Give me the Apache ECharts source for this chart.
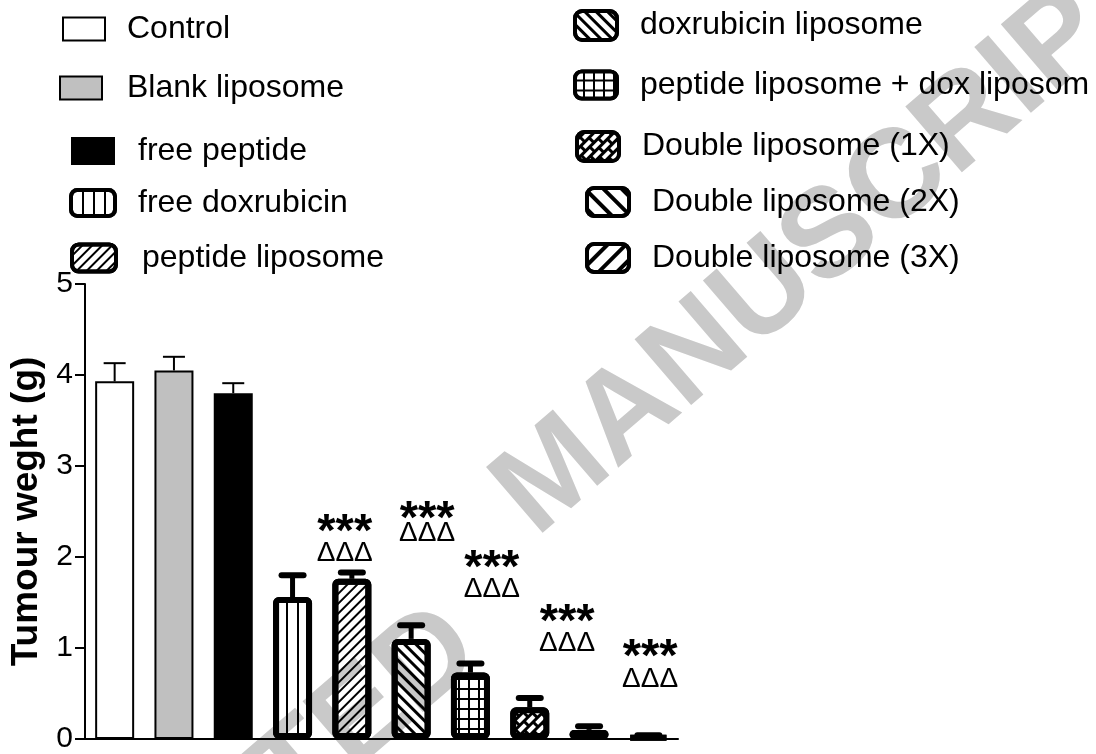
<!DOCTYPE html>
<html><head><meta charset="utf-8">
<script src="https://cdn.jsdelivr.net/npm/echarts@6/dist/echarts.min.js"></script>
<style>html,body{margin:0;padding:0;background:#fff}#c{width:1096px;height:754px}</style>
</head><body><div id="c"></div>
<script>
// ---------------- data ----------------
const categories = ['Control','Blank liposome','free peptide','free doxrubicin','peptide liposome','doxrubicin liposome','peptide liposome + dox liposom','Double liposome (1X)','Double liposome (2X)','Double liposome (3X)'];
const meanWeight = [3.93, 4.05, 3.80, 1.56, 1.76, 1.10, 0.73, 0.35, 0.10, 0.03];
const semWeight  = [0.20, 0.15, 0.11, 0.24, 0.07, 0.15, 0.10, 0.10, 0.04, 0.01];
const yTicks = [0, 1, 2, 3, 4, 5];
const sigX   = [3.88, 5.27, 6.36, 7.63, 9.03];
const starY  = [2.39, 2.54, 2.00, 1.41, 1.02];
const deltaY = [2.07, 2.29, 1.68, 1.08, 0.69];
const starText = '***';
const deltaText = 'ΔΔΔ';
const yName = 'Tumour weght (g)';
const watermarkWords = ['ACCEPTED', 'MANUSCRIPT'];

// ---------------- styles / layout ----------------
function hasFont(name){
  const c = document.createElement('canvas').getContext('2d');
  const t = 'abcdefghijklmnopqrstuvwxyz ABCDEFG';
  c.font = '40px monospace'; const w1 = c.measureText(t).width;
  c.font = "40px '" + name + "', monospace"; const w2 = c.measureText(t).width;
  return Math.abs(w1 - w2) > 0.5;
}
const narrow = hasFont('Liberation Sans Narrow');
const legendFont = narrow ? "'Liberation Sans Narrow'" : "'Liberation Sans', Arial";
const legendSize = narrow ? 37 : 32;

const blk = '#000';
const clear = 'rgba(255,255,255,0)';
const styles = [
  {color:clear, bw:2, icon:'rect'},
  {color:'#c0c0c0', bw:2, icon:'rect'},
  {color:'#000', bw:2, icon:'rect'},
  {color:clear, bw:6, icon:'roundRect', decal:{symbol:'rect', color:blk, dashArrayX:[2,9], dashArrayY:[1,0]}},
  {color:clear, bw:6, icon:'roundRect', decal:{symbol:'rect', color:blk, dashArrayX:[1,0], dashArrayY:[2,5], rotation:-Math.PI/4}},
  {color:clear, bw:6, icon:'roundRect', decal:{symbol:'rect', color:blk, dashArrayX:[1,0], dashArrayY:[3,5], rotation:Math.PI/4}},
  {color:'#000', bw:6, icon:'roundRect', decal:{symbol:'rect', color:'#fff', backgroundColor:blk, dashArrayX:[8,2], dashArrayY:[8,2]}},
  {color:'#000', bw:6, icon:'roundRect', decal:{symbol:'rect', color:'#fff', backgroundColor:blk, dashArrayX:[[9,3],[3,3,6,0]], dashArrayY:[4,3], rotation:-Math.PI/4}},
  {color:clear, bw:6, icon:'roundRect', decal:{symbol:'rect', color:blk, dashArrayX:[1,0], dashArrayY:[4,9], rotation:Math.PI/4}},
  {color:clear, bw:6, icon:'roundRect', decal:{symbol:'rect', color:blk, dashArrayX:[1,0], dashArrayY:[4,9], rotation:-Math.PI/4}}
];
// [iconLeft, iconTop, iconW, iconH, textLeft, iconBorder]
const legendBoxes = [
  [62, 13, 44, 25, 127, 2],
  [59, 72, 44, 25, 127, 2],
  [71, 135, 44, 28, 138, 0],
  [69, 187, 48, 30, 138, 4],
  [70, 242, 48, 31, 142, 4],
  [573, 9, 46, 33, 640, 4],
  [573, 69, 46, 31, 640, 4],
  [575, 130, 46, 33, 642, 4],
  [585, 186, 46, 32, 652, 4],
  [585, 242, 46, 32, 652, 4]
];
// watermark word centres (px) and angle
const watermarkPos = [[200, 858], [832, 238]];
const watermarkAngle = 40.7;

const chart = echarts.init(document.getElementById('c'), null, {renderer:'canvas'});

const barSeries = categories.map((name, i) => ({
  name: name,
  type: 'bar',
  xAxisIndex: 0, yAxisIndex: 0,
  barWidth: 39,
  barGap: '-100%',
  z: 2,
  silent: true,
  data: categories.map((c, j) => j === i ? meanWeight[i] : '-'),
  itemStyle: Object.assign({
    color: styles[i].color,
    borderColor: '#000',
    borderWidth: styles[i].bw,
    borderRadius: styles[i].bw > 2 ? 3 : 0
  }, styles[i].decal ? {decal: styles[i].decal} : {})
}));

const legends = categories.map((name, i) => {
  const b = legendBoxes[i];
  const bw = b[5];
  const pad = b[4] - b[0] - b[2] + bw / 2 - 5;
  return {
    show: true,
    selectedMode: false,
    orient: 'vertical',
    left: b[0], top: b[1],
    padding: 0,
    itemWidth: b[2] - bw, itemHeight: b[3] - bw,
    data: [{
      name: name,
      icon: styles[i].icon,
      itemStyle: Object.assign({color: styles[i].color === clear ? '#fff' : styles[i].color, borderColor:'#000', borderWidth: bw}, styles[i].decal ? {decal: styles[i].decal} : {decal:'none'})
    }],
    textStyle: {fontFamily: legendFont, fontSize: legendSize, color:'#000', lineHeight: 14, padding:[0,0,0,pad]}
  };
});

const option = {
  animation: false,
  backgroundColor: '#fff',
  legend: legends,
  grid: {left: 85, right: 418, top: 284, bottom: 12, containLabel: false},
  xAxis: [
    {type:'category', data: categories, boundaryGap: true,
     axisLine:{show:true, onZero:false, lineStyle:{color:'#000', width:2}}, axisTick:{show:false}, axisLabel:{show:false}, splitLine:{show:false}},
    {type:'value', min:-0.5, max:9.5, show:false}
  ],
  yAxis: {
    type:'value', min:0, max:5, interval:1,
    name: yName, nameLocation:'middle', nameGap: 35,
    nameTextStyle:{fontFamily:"'Liberation Sans', Arial", fontWeight:'bold', fontSize:37, color:'#000'},
    axisLine:{show:true, onZero:false, lineStyle:{color:'#000', width:2}},
    axisTick:{show:true, length:10, lineStyle:{color:'#000', width:2}},
    axisLabel:{color:'#000', fontSize:30, fontFamily:"'Liberation Sans', Arial", margin:12,
      formatter: v => yTicks.indexOf(v) >= 0 ? String(v) : ''},
    splitLine:{show:false}
  },
  series: barSeries.concat([
    {
      type:'custom', name:'sem', xAxisIndex:0, yAxisIndex:0, z:3, silent:true,
      data: meanWeight.map((v, i) => [i, v, semWeight[i]]),
      renderItem: function(params, api){
        const i = api.value(0), v = api.value(1), e = api.value(2);
        const p0 = api.coord([i, v]);
        const p1 = api.coord([i, v + e]);
        const thick = styles[i].bw > 2;
        const lw = thick ? 5 : 2, cw = 22;
        return {type:'group', children:[
          {type:'line', shape:{x1:p0[0], y1:p0[1], x2:p1[0], y2:p1[1]}, style:{stroke:'#000', lineWidth:lw}},
          {type:'line', shape:{x1:p1[0]-cw/2, y1:p1[1], x2:p1[0]+cw/2, y2:p1[1]}, style:{stroke:'#000', lineWidth: thick ? 6 : 2, lineCap: thick ? 'round' : 'butt'}}
        ]};
      }
    },
    {
      type:'custom', name:'significance', xAxisIndex:1, yAxisIndex:0, z:4, silent:true,
      data: sigX.map((x, k) => [x, starY[k], deltaY[k]]),
      renderItem: function(params, api){
        const ps = api.coord([api.value(0), api.value(1)]);
        const pd = api.coord([api.value(0), api.value(2)]);
        return {type:'group', children:[
          {type:'text', x: ps[0], y: ps[1] + 12, style:{text: starText, fill:'#000', fontFamily:"'Liberation Sans', Arial", fontWeight:'bold', fontSize:47, align:'center', verticalAlign:'middle'}},
          {type:'text', x: pd[0], y: pd[1] + 3, style:{text: deltaText, fill:'#000', fontFamily:"'Liberation Sans', Arial", fontSize:28, align:'center', verticalAlign:'middle'}}
        ]};
      }
    }
  ]),
  graphic: watermarkWords.map((w, k) => ({
    type:'text', z: 0, zlevel: 0, silent:true,
    x: watermarkPos[k][0], y: watermarkPos[k][1], rotation: watermarkAngle * Math.PI / 180,
    style:{text: w, fontFamily:"'Liberation Sans', Arial", fontWeight:'bold', fontSize:126, fill:'#c9c9c9',
      align:'center', verticalAlign:'middle', textAlign:'center', textVerticalAlign:'middle'}
  }))
};
chart.setOption(option);
</script>
</body></html>
